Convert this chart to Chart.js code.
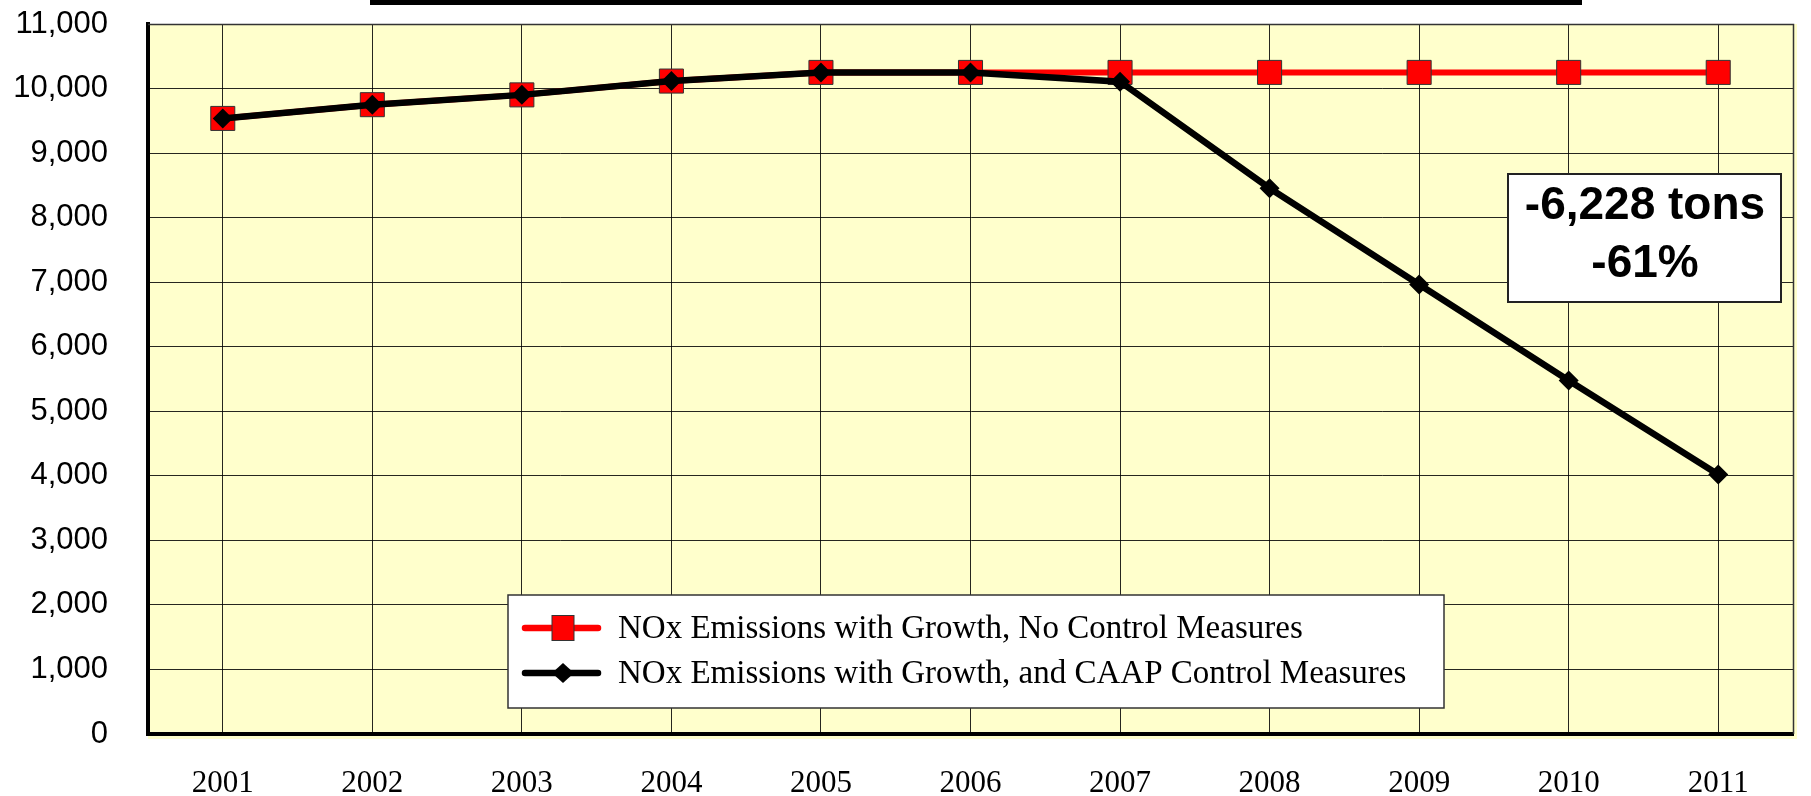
<!DOCTYPE html>
<html>
<head>
<meta charset="utf-8">
<script src="https://cdn.jsdelivr.net/npm/chart.js@4/dist/chart.umd.min.js"></script>
<style>
  html, body { margin: 0; padding: 0; background: #ffffff; }
  #wrap { width: 1811px; height: 796px; position: relative; }
</style>
</head>
<body>
<div id="wrap"><canvas id="c" width="1811" height="796"></canvas></div>
<script>
// ---- data ----
const years = ['2001','2002','2003','2004','2005','2006','2007','2008','2009','2010','2011'];
const noControl = [9537, 9750, 9902, 10116, 10250, 10250, 10250, 10250, 10250, 10250, 10250];
const withCaap  = [9537, 9750, 9902, 10116, 10250, 10250, 10107, 8455, 6965, 5477, 4022];
const seriesLabels = ['NOx Emissions with Growth, No Control Measures',
                      'NOx Emissions with Growth, and CAAP Control Measures'];
const annotationLines = ['-6,228 tons', '-61%'];
const yMin = 0, yMax = 11000, yStep = 1000;

const SANS = '"Liberation Sans", Arial, sans-serif';
const SERIF = '"Liberation Serif", "Times New Roman", serif';

const decor = {
  id: 'decor',
  beforeDraw(chart) {
    const { ctx, chartArea: a } = chart;
    ctx.save();
    ctx.fillStyle = '#FFFFCC';
    ctx.fillRect(a.left, a.top, a.right - a.left + 4, a.bottom - a.top + 5);
    ctx.restore();
  },
  afterDatasetsDraw(chart) {
    const { ctx, chartArea: a } = chart;
    ctx.save();
    // thin top / right frame
    ctx.strokeStyle = '#333';
    ctx.lineWidth = 1.5;
    ctx.beginPath();
    ctx.moveTo(a.left, a.top + 0.5);
    ctx.lineTo(a.right + 0.5, a.top + 0.5);
    ctx.lineTo(a.right + 0.5, a.bottom);
    ctx.stroke();

    // title box bottom edge
    ctx.fillStyle = '#000';
    ctx.fillRect(370, 0, 1212, 5);

    // annotation box
    ctx.fillStyle = '#fff';
    ctx.fillRect(1508, 174, 273, 128);
    ctx.strokeStyle = '#222';
    ctx.lineWidth = 2;
    ctx.strokeRect(1508, 174, 273, 128);
    ctx.fillStyle = '#000';
    ctx.font = 'bold 46px ' + SANS;
    ctx.textAlign = 'center';
    ctx.textBaseline = 'middle';
    ctx.fillText(annotationLines[0], 1645, 206);
    ctx.fillText(annotationLines[1], 1645, 264);

    // legend
    const lx = 508, ly = 595, lw = 936, lh = 113;
    ctx.fillStyle = '#fff';
    ctx.fillRect(lx, ly, lw, lh);
    ctx.strokeStyle = '#333';
    ctx.lineWidth = 1.5;
    ctx.strokeRect(lx, ly, lw, lh);
    const rows = [628, 673];
    const mx = 563;
    chart.data.datasets.forEach((ds, i) => {
      const y = rows[i];
      ctx.strokeStyle = ds.borderColor;
      ctx.lineWidth = 6.5;
      ctx.lineCap = 'round';
      ctx.beginPath();
      ctx.moveTo(525, y);
      ctx.lineTo(598, y);
      ctx.stroke();
      ctx.lineCap = 'butt';
      if (i === 0) {
        ctx.fillStyle = ds.pointBackgroundColor;
        ctx.fillRect(mx - 11, y - 12.5, 22, 25);
        ctx.strokeStyle = '#333';
        ctx.lineWidth = 1;
        ctx.strokeRect(mx - 11, y - 12.5, 22, 25);
      } else {
        ctx.fillStyle = ds.pointBackgroundColor;
        ctx.beginPath();
        ctx.moveTo(mx, y - 10);
        ctx.lineTo(mx + 11, y);
        ctx.lineTo(mx, y + 10);
        ctx.lineTo(mx - 11, y);
        ctx.closePath();
        ctx.fill();
      }
      ctx.fillStyle = '#000';
      ctx.font = '33px ' + SERIF;
      ctx.textAlign = 'left';
      ctx.textBaseline = 'middle';
      ctx.fillText(ds.label, 618, y + 1);
    });
    ctx.restore();
  }
};

new Chart(document.getElementById('c'), {
  type: 'line',
  data: {
    labels: years,
    datasets: [
      {
        label: seriesLabels[0],
        data: noControl,
        borderColor: '#FF0000',
        borderWidth: 6,
        pointStyle: 'rect',
        pointRadius: 17,
        pointHoverRadius: 17,
        pointBackgroundColor: '#FF0000',
        pointBorderColor: '#333',
        pointBorderWidth: 1,
        tension: 0,
        order: 2
      },
      {
        label: seriesLabels[1],
        data: withCaap,
        borderColor: '#000000',
        borderWidth: 6.5,
        pointStyle: 'rectRot',
        pointRadius: 10,
        pointHoverRadius: 10,
        pointBackgroundColor: '#000000',
        pointBorderColor: '#000000',
        pointBorderWidth: 0,
        tension: 0,
        order: 1
      }
    ]
  },
  options: {
    responsive: false,
    animation: false,
    events: [],
    layout: { padding: { left: 0, right: 9, top: 24, bottom: 0 } },
    plugins: { legend: { display: false }, tooltip: { enabled: false }, title: { display: false } },
    scales: {
      x: {
        type: 'category',
        offset: true,
        grid: { offset: false, color: 'rgba(0,0,0,0.85)', lineWidth: 1, drawTicks: false, tickLength: 0 },
        border: { display: true, color: '#000', width: 4 },
        ticks: { color: '#000', font: { family: SERIF, size: 31 }, padding: 31, maxRotation: 0, autoSkip: false },
        afterFit(s) { s.height = 62; s.paddingLeft = 0; s.paddingRight = 0; s.paddingTop = 0; s.paddingBottom = 0; }
      },
      y: {
        min: yMin, max: yMax,
        grid: { color: 'rgba(0,0,0,0.85)', lineWidth: 1, drawTicks: false, tickLength: 0 },
        border: { display: true, color: '#000', width: 4 },
        ticks: {
          stepSize: yStep, color: '#000', padding: 40,
          font: { family: SANS, size: 31 },
          callback: v => v.toLocaleString('en-US')
        },
        afterFit(s) { s.width = 148; s.paddingTop = 0; s.paddingBottom = 0; s.paddingLeft = 0; s.paddingRight = 0; }
      }
    }
  },
  plugins: [decor]
});
</script>
</body>
</html>
